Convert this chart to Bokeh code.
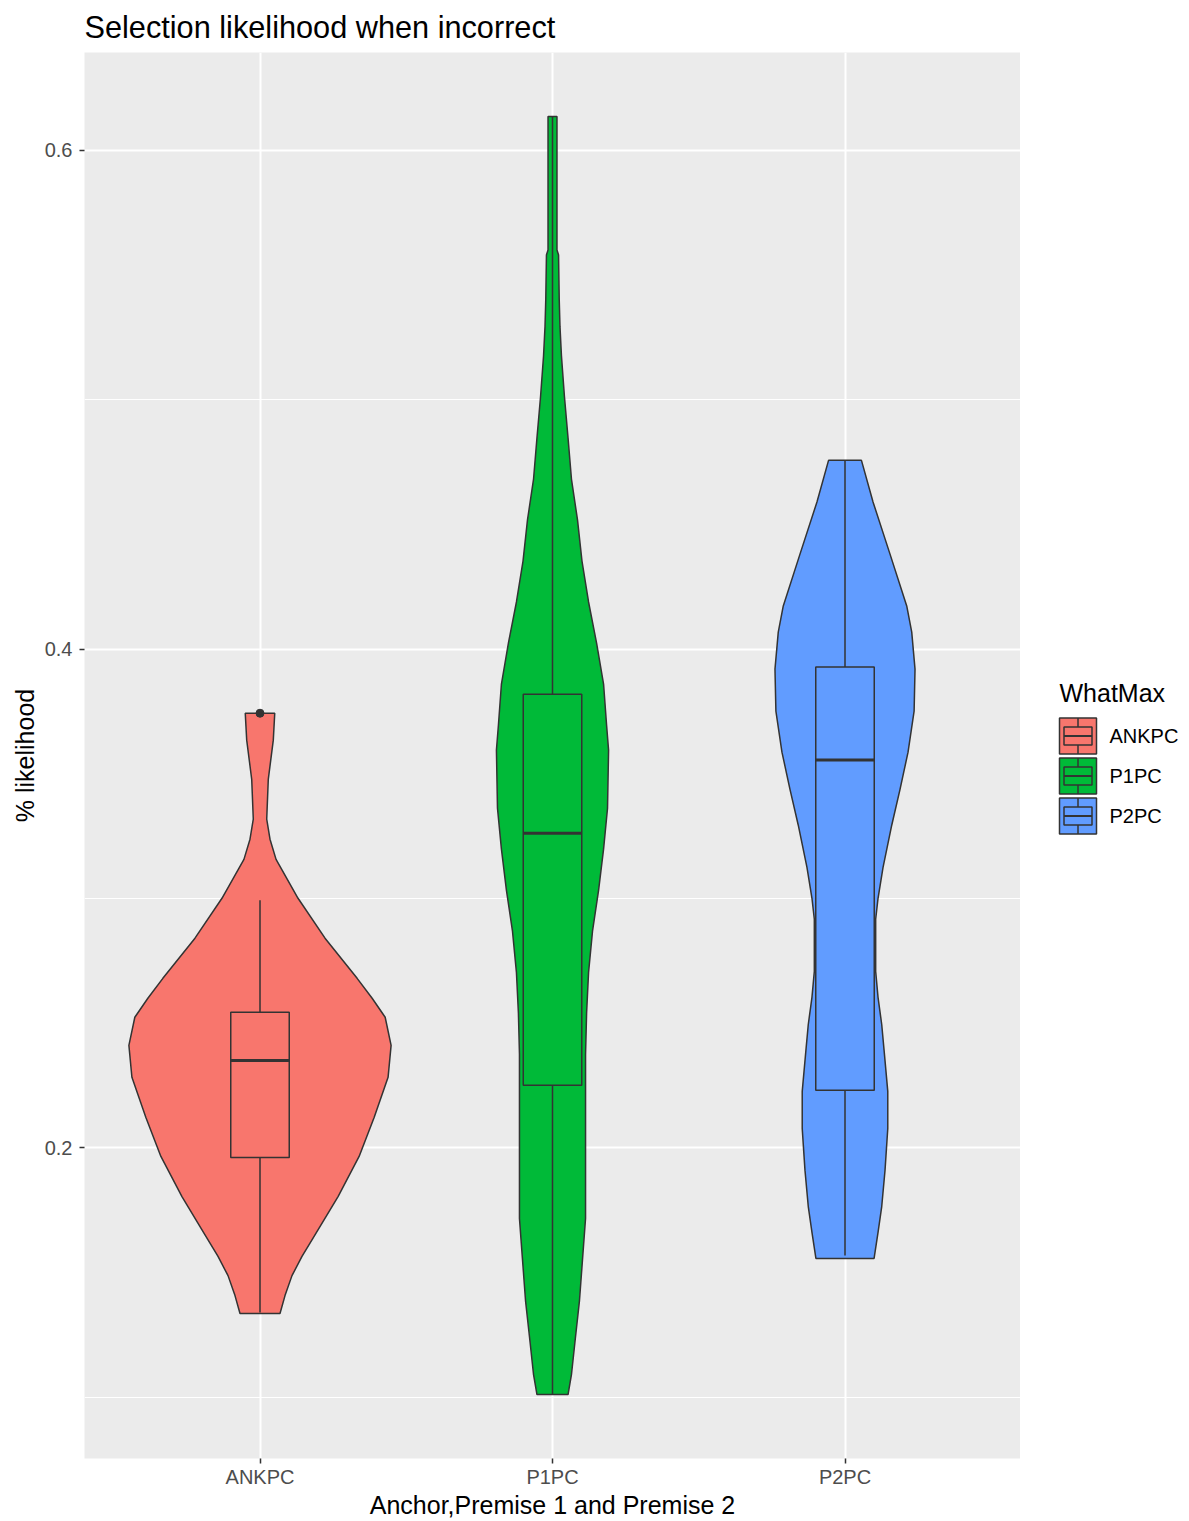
from bokeh.plotting import figure
from bokeh.models import Range1d, FixedTicker
from bokeh.layouts import row
from bokeh.embed import file_html
from bokeh.resources import INLINE
from bokeh.core.properties import value

# ---------------- data ----------------
categories = ["ANKPC", "P1PC", "P2PC"]
colors = ["#F8766D", "#00BA38", "#619CFF"]

# violin profiles: likelihood values and relative density (1 = widest violin)
ankpc_y = [0.3743, 0.3635, 0.3478, 0.3318, 0.3238, 0.3157, 0.3001, 0.2841, 0.2680, 0.2600,
           0.2524, 0.2411, 0.2283, 0.2122, 0.1966, 0.1805, 0.1645, 0.1565, 0.1488, 0.1408, 0.1336]
ankpc_density = [0.112, 0.101, 0.063, 0.051, 0.076, 0.122, 0.289, 0.494, 0.738, 0.852,
                 0.951, 0.996, 0.973, 0.867, 0.753, 0.593, 0.411, 0.319, 0.243, 0.190, 0.152]

p1pc_y = [0.6136, 0.5600, 0.5580, 0.5404, 0.5292, 0.5176, 0.5011, 0.4847, 0.4682, 0.4518,
          0.4353, 0.4189, 0.4024, 0.3860, 0.3695, 0.3595, 0.3362, 0.3198, 0.3033, 0.2869,
          0.2704, 0.2540, 0.2375, 0.2046, 0.1717, 0.1553, 0.1388, 0.1224, 0.1091, 0.1011]
p1pc_density = [0.034, 0.034, 0.046, 0.051, 0.057, 0.068, 0.091, 0.118, 0.144, 0.190,
                0.224, 0.274, 0.335, 0.388, 0.411, 0.426, 0.418, 0.388, 0.350, 0.304,
                0.274, 0.259, 0.251, 0.251, 0.251, 0.228, 0.205, 0.171, 0.144, 0.118]

p2pc_y = [0.4757, 0.4590, 0.4381, 0.4173, 0.4068, 0.3920, 0.3751, 0.3587, 0.3438, 0.3294,
          0.3125, 0.3001, 0.2917, 0.2708, 0.2604, 0.2495, 0.2391, 0.2227, 0.2078, 0.1910,
          0.1765, 0.1661, 0.1557]
p2pc_density = [0.125, 0.213, 0.342, 0.469, 0.507, 0.532, 0.525, 0.479, 0.418, 0.355,
                0.289, 0.251, 0.233, 0.233, 0.251, 0.279, 0.297, 0.325, 0.325, 0.304,
                0.279, 0.251, 0.221]

whisker_low = [0.1340, 0.1011, 0.1569]
q1 = [0.1962, 0.2251, 0.2231]
median = [0.2351, 0.3262, 0.3555]
q3 = [0.2544, 0.3819, 0.3928]
whisker_high = [0.2993, 0.6134, 0.4754]

outlier_cat = ["ANKPC"]
outlier_val = [0.3743]

y_ticks = [0.2, 0.4, 0.6]
y_minor = [0.1, 0.3, 0.5]
y_labels = ["0.2", "0.4", "0.6"]

title = "Selection likelihood when incorrect"
x_title = "Anchor,Premise 1 and Premise 2"
y_title = "% likelihood"
legend_title = "WhatMax"

# ---------------- styling ----------------
FONT = "Liberation Sans"
OUT = "#333333"
violin_half = 0.45
box_half = 0.1
FRAME_TOP, FRAME_BOTTOM = 51, 1458
W_MAIN, W_LEG, H = 1020, 169, 1521

profiles = [(ankpc_y, ankpc_density), (p1pc_y, p1pc_density), (p2pc_y, p2pc_density)]
all_y = ankpc_y + p1pc_y + p2pc_y
lo, hi = min(all_y), max(all_y)
span = hi - lo

p = figure(width=W_MAIN, height=H, output_backend="svg", toolbar_location=None,
           x_range=Range1d(0.4, len(categories) + 0.6),
           y_range=Range1d(lo - 0.05 * span, hi + 0.05 * span),
           min_border_left=84, min_border_right=0, min_border_top=FRAME_TOP,
           min_border_bottom=H - FRAME_BOTTOM,
           background_fill_color="#EBEBEB", border_fill_color="white", outline_line_color=None)

p.title.text = title
p.title.text_font = FONT
p.title.text_font_size = "30.7px"
p.title.text_font_style = "normal"
p.title.text_color = "black"
p.title.offset = 0
p.title.standoff = 15

xpos = [i + 1 for i in range(len(categories))]

for c, (ys, ds), col in zip(xpos, profiles, colors):
    left = [c - d * violin_half for d in ds]
    right = [c + d * violin_half for d in ds]
    p.patch(left + right[::-1], ys + ys[::-1], fill_color=col, line_color=OUT, line_width=1.5)

for i, c in enumerate(xpos):
    p.segment(x0=[c, c], x1=[c, c], y0=[q3[i], q1[i]], y1=[whisker_high[i], whisker_low[i]],
              line_color=OUT, line_width=1.5)
    p.quad(left=[c - box_half], right=[c + box_half], bottom=[q1[i]], top=[q3[i]],
           fill_color=colors[i], line_color=OUT, line_width=1.5)
    p.segment(x0=[c - box_half], x1=[c + box_half], y0=[median[i]], y1=[median[i]],
              line_color=OUT, line_width=3)

p.scatter([categories.index(k) + 1 for k in outlier_cat], outlier_val, size=8,
          fill_color=OUT, line_color=OUT)

# axes
p.xaxis.ticker = FixedTicker(ticks=xpos)
p.xaxis.major_label_overrides = {x: c for x, c in zip(xpos, categories)}
p.yaxis.ticker = FixedTicker(ticks=y_ticks, minor_ticks=y_minor)
p.yaxis.major_label_overrides = {t: l for t, l in zip(y_ticks, y_labels)}

for ax in (p.xaxis[0], p.yaxis[0]):
    ax.axis_line_color = None
    ax.major_tick_line_color = OUT
    ax.major_tick_line_width = 1.5
    ax.major_tick_out = 5
    ax.major_tick_in = 0
    ax.minor_tick_line_color = None
    ax.major_label_text_font = FONT
    ax.major_label_text_font_size = "20px"
    ax.major_label_text_color = "#4D4D4D"
    ax.axis_label_text_font = FONT
    ax.axis_label_text_font_size = "25px"
    ax.axis_label_text_font_style = "normal"
    ax.axis_label_text_color = "black"

p.yaxis.major_label_standoff = 7
p.yaxis.axis_label_standoff = 3
p.xaxis.major_label_standoff = 2
p.xaxis.axis_label_standoff = 0

p.xaxis.axis_label = x_title
p.yaxis.axis_label = y_title

p.xgrid.ticker = FixedTicker(ticks=xpos)
p.xgrid.grid_line_color = "white"
p.xgrid.grid_line_width = 2
p.ygrid.ticker = FixedTicker(ticks=y_ticks, minor_ticks=y_minor)
p.ygrid.grid_line_color = "white"
p.ygrid.grid_line_width = 2
p.ygrid.minor_grid_line_color = "white"
p.ygrid.minor_grid_line_width = 1

# ---------------- legend panel (page-pixel coordinates; frame aligned with main) ----------------
lg = figure(width=W_LEG, height=H, output_backend="svg", toolbar_location=None,
            x_range=Range1d(0, W_LEG), y_range=Range1d(FRAME_BOTTOM, FRAME_TOP),
            x_axis_type=None, y_axis_type=None, min_border=0,
            min_border_top=FRAME_TOP, min_border_bottom=H - FRAME_BOTTOM,
            background_fill_color="white", border_fill_color="white", outline_line_color=None)
lg.grid.visible = False

key_x0, key_w, key_h, key_top0, key_step = 39, 37, 36, 717, 40
lg.text(x=[key_x0], y=[692], text=[legend_title], text_font=value(FONT),
        text_font_size="25px", text_color="black", text_baseline="middle", text_align="left")
for i, (cat, col) in enumerate(zip(categories, colors)):
    t = key_top0 + i * key_step
    b = t + key_h
    cx = key_x0 + key_w / 2
    cy = (t + b) / 2
    lg.quad(left=[key_x0], right=[key_x0 + key_w], top=[t], bottom=[b],
            fill_color=col, line_color=OUT, line_width=1.5)
    lg.segment(x0=[cx, cx], x1=[cx, cx], y0=[t, b], y1=[t + 9, b - 9],
               line_color=OUT, line_width=1.5)
    lg.quad(left=[key_x0 + 4.5], right=[key_x0 + key_w - 4.5], top=[t + 9], bottom=[b - 9],
            fill_color=col, line_color=OUT, line_width=1.5)
    lg.segment(x0=[key_x0 + 4.5], x1=[key_x0 + key_w - 4.5], y0=[cy], y1=[cy],
               line_color=OUT, line_width=2)
    lg.text(x=[89], y=[cy], text=[cat], text_font=value(FONT), text_font_size="20px",
            text_color="black", text_baseline="middle", text_align="left")

layout = row(p, lg, spacing=0)
open("out.html", "w").write(file_html(layout, INLINE))
